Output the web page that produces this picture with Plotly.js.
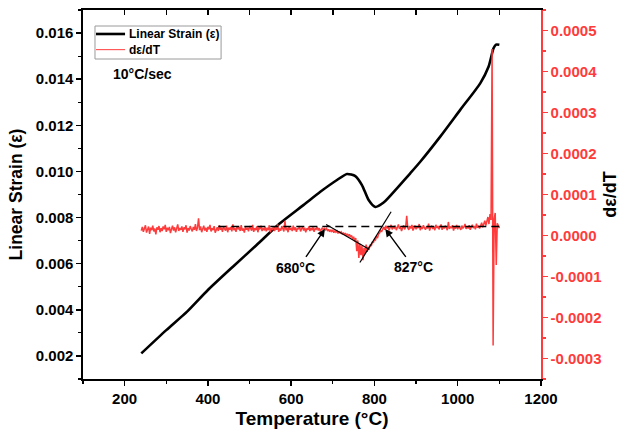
<!DOCTYPE html>
<html><head><meta charset="utf-8">
<script src="https://cdn.plot.ly/plotly-3.0.1.min.js"></script>
<style>html,body{margin:0;padding:0;background:#fff}#chart{width:620px;height:431px}</style>
</head><body><div id="chart"></div>
<script>
// Linear strain curve
const tempStrain = [240, 300, 350, 400, 460, 517, 573, 630, 670, 710, 734, 754, 770, 786, 802, 822, 854, 886, 910, 958, 1006, 1054, 1074, 1086, 1092, 1100];
const strain = [0.00211, 0.00312, 0.00392, 0.00486, 0.00587, 0.00681, 0.00775, 0.00855, 0.00912, 0.00963, 0.00989, 0.00980, 0.00941, 0.00876, 0.00846, 0.00865, 0.00927, 0.00992, 0.01042, 0.01151, 0.01267, 0.01382, 0.01454, 0.01534, 0.01550, 0.01549];

// dε/dT sampled every 2.5 °C from 240 °C, in units of 1e-6
const derivStartT = 240;
const derivStepT = 2.5;
const derivMicro = [
 // 240 – 680
 12, 21, 9, 18, 25, 7, 16, 22, 4, 19, 13, 24, 10, 17, 3, 20, 14, 23, 8, 18,
 11, 22, 15, 26, 9, 19, 13, 21, 6, 17, 24, 12, 20, 8, 16, 27, 11, 18, 14, 22,
 9, 20, 15, 25, 7, 18, 12, 23, 16, 10, 21, 14, 28, 11, 19, 42, 13, 22, 8, 17,
 24, 12, 19, 9, 21, 15, 26, 10, 18, 13, 23, 7, 17, 20, 11, 25, 14, 19, 9, 22,
 16, 12, 24, 8, 19, 14, 21, 10, 27, 13, 18, 9, 22, 15, 20, 11, 25, 12, 17, 7,
 21, 14, 19, 10, 23, 16, 12, 26, 9, 18, 13, 22, 8, 20, 15, 24, 11, 17, 14, 21,
 10, 19, 13, 25, 8, 18, 15, 22, 11, 20, 14, 27, 9, 17, 12, 23, 16, 10, 36, 13,
 19, 8, 22, 14, 17, 11, 24, 13, 20, 9, 18, 15, 23, 10, 16, 21, 12, 19, 8, 17,
 14, 22, 11, 18, 13, 20, 9, 17, 15, 21, 12, 18, 10, 16, 19, 13, 17,
 // 682.5 – 820 (transformation dip)
 14, 17, 11, 15, 9, 14, 10, 13, 7, 12, 8, 11, 5, 10, 6, 9, 3, 7, 2, 6,
 0, 4, -2, 3, -4, 0, -8, -3, -15, -6, -38, -12, -55, -20, -48, -25, -60, -30, -45, -22,
 -40, -28, -32, -22, -26, -15, -18, -9, -11, -3, -5, 4, 6, 12, 10, 17,
 // 822.5 – 1100
 21, 14, 24, 17, 22, 12, 19, 26, 15, 21, 18, 24, 13, 20, 27, 16, 22, 11, 19, 25,
 15, 21, 48, 18, 14, 23, 17, 26, 12, 20, 24, 15, 22, 18, 28, 13, 21, 16, 25, 19,
 14, 22, 17, 29, 12, 20, 24, 16, 21, 13, 26, 18, 23, 15, 20, 27, 14, 22, 17, 24,
 19, 13, 33, 16, 22, 18, 25, 12, 21, 17, 26, 15, 23, 19, 14, 24, 18, 21, 28, 16,
 22, 17, 25, 14, 20, 26, 18, 23, 15, 29, 19, 24, 17, 22, 31, 20, 27, 36, 24, 33,
 45, 28, 52, 38, 455, -268, 40, 55, -72, 30, 25, 18
];
const deriv = derivMicro.map(v => v * 1e-6);

// Construction lines (on the dε/dT axis)
const baseT = [425, 1102];
const baseD = [0.000022, 0.000022];
const tan1T = [684, 788];
const tan1D = [0.000027, -0.000034];
const tan2T = [765, 840];
const tan2D = [-0.000066, 0.000058];

// Onset annotations
const onsetLabels = ['680°C', '827°C'];
const onsetHeadT = [681, 826];
const onsetHeadD = [0.000016, 0.000016];
const onsetTailT = [633, 878];
const onsetTailD = [-0.000056, -0.000056];
const onsetTextT = [610, 894];
const onsetTextD = [-0.000079, -0.000077];

// Legend entries
const legendNames = ['Linear Strain (ε)', 'dε/dT'];
const legendColors = ['#000', '#ff3b3b'];
const legendWidths = [2.6, 1];

const rightTicks = [-0.0003, -0.0002, -0.0001, 0, 0.0001, 0.0002, 0.0003, 0.0004, 0.0005];
const rightTickText = ['-0.0003', '-0.0002', '-0.0001', '0.0000', '0.0001', '0.0002', '0.0003', '0.0004', '0.0005'];

const RED = '#ff3b3b';
const FONT = 'Liberation Sans, Arial, sans-serif';

const traces = [
  {x: tempStrain, y: strain, type: 'scatter', mode: 'lines', name: legendNames[0],
   line: {color: '#000', width: 2.6, shape: 'spline', smoothing: 0.6}, xaxis: 'x', yaxis: 'y', hoverinfo: 'skip'},
  {x0: derivStartT, dx: derivStepT, y: deriv, type: 'scatter', mode: 'lines', name: legendNames[1],
   line: {color: RED, width: 1.5}, xaxis: 'x', yaxis: 'y2', hoverinfo: 'skip'},
  {x: baseT, y: baseD, type: 'scatter', mode: 'lines', showlegend: false,
   line: {color: '#000', width: 1.3, dash: '8px,5px'}, yaxis: 'y2', hoverinfo: 'skip'},
  {x: tan1T, y: tan1D, type: 'scatter', mode: 'lines', showlegend: false,
   line: {color: '#000', width: 1.2}, yaxis: 'y2', hoverinfo: 'skip'},
  {x: tan2T, y: tan2D, type: 'scatter', mode: 'lines', showlegend: false,
   line: {color: '#000', width: 1.2}, yaxis: 'y2', hoverinfo: 'skip'},
  {x: [100, 1200], y: [0.001, 0.001], type: 'scatter', mode: 'lines', showlegend: false,
   line: {color: 'rgba(0,0,0,0)'}, xaxis: 'x2', yaxis: 'y', hoverinfo: 'skip'}
];

const annotations = [
  {x: 243, y: 0.01423, xref: 'x', yref: 'y', text: '<b>10°C/sec</b>', showarrow: false,
   font: {family: FONT, size: 14, color: '#000'}}
];
for (let i = 0; i < onsetLabels.length; i++) {
  annotations.push({x: onsetHeadT[i], y: onsetHeadD[i], xref: 'x', yref: 'y2',
    ax: onsetTailT[i], ay: onsetTailD[i], axref: 'x', ayref: 'y2', text: '',
    showarrow: true, arrowhead: 2, arrowsize: 1.1, arrowwidth: 1.4, arrowcolor: '#000'});
  annotations.push({x: onsetTextT[i], y: onsetTextD[i], xref: 'x', yref: 'y2',
    text: '<b>' + onsetLabels[i] + '</b>', showarrow: false,
    font: {family: FONT, size: 14, color: '#000'}});
}

// Compact legend box (paper coordinates)
const shapes = [
  {type: 'rect', xref: 'paper', yref: 'paper', x0: 0.0262, x1: 0.3015, y0: 0.8672, y1: 0.9566,
   line: {color: '#9a9a9a', width: 1}, fillcolor: '#fff', layer: 'above'}
];
const legendRowY = [0.935, 0.8925];
for (let i = 0; i < legendNames.length; i++) {
  shapes.push({type: 'line', xref: 'paper', yref: 'paper', x0: 0.0284, x1: 0.0918,
    y0: legendRowY[i], y1: legendRowY[i], line: {color: legendColors[i], width: legendWidths[i]}, layer: 'above'});
  annotations.push({x: 0.0965, y: legendRowY[i], xref: 'paper', yref: 'paper', xanchor: 'left', yanchor: 'middle',
    text: '<b>' + legendNames[i] + '</b>', showarrow: false, font: {family: FONT, size: 12, color: '#000'}});
}

const layout = {
  width: 620, height: 431,
  margin: {l: 83, r: 79, t: 10, b: 52},
  paper_bgcolor: '#fff', plot_bgcolor: '#fff',
  font: {family: FONT, color: '#000'},
  showlegend: false,
  xaxis: {range: [100, 1200], showgrid: false, zeroline: false, showline: true, linecolor: '#000', linewidth: 1.6,
    ticks: 'outside', ticklen: 5, tickwidth: 1.4, tickcolor: '#000', dtick: 200, tick0: 0,
    minor: {dtick: 100, tick0: 0, ticks: 'outside', ticklen: 3, tickwidth: 1.2, tickcolor: '#000'},
    tickfont: {family: FONT, size: 15, color: '#000', weight: 'bold'},
    title: {text: '<b>Temperature (°C)</b>', font: {family: FONT, size: 19, color: '#000'}, standoff: 6}},
  xaxis2: {range: [100, 1200], overlaying: 'x', side: 'top', showgrid: false, zeroline: false,
    showline: true, linecolor: '#000', linewidth: 1.6, ticks: 'inside', ticklen: 5, tickwidth: 1.4,
    tickcolor: '#000', dtick: 100, tick0: 0, showticklabels: false},
  yaxis: {range: [0.001, 0.017], showgrid: false, zeroline: false, showline: true, linecolor: '#000', linewidth: 1.6,
    ticks: 'outside', ticklen: 5, tickwidth: 1.4, tickcolor: '#000', dtick: 0.002, tick0: 0, tickformat: '.3f',
    minor: {dtick: 0.001, tick0: 0, ticks: 'outside', ticklen: 3, tickwidth: 1.2, tickcolor: '#000'},
    tickfont: {family: FONT, size: 15, color: '#000', weight: 'bold'},
    title: {text: '<b>Linear Strain (ε)</b>', font: {family: FONT, size: 17.5, color: '#000'}, standoff: 9}},
  yaxis2: {range: [-0.00035, 0.00055], overlaying: 'y', side: 'right', showgrid: false, zeroline: false,
    showline: true, linecolor: RED, linewidth: 1.6,
    ticks: 'outside', ticklen: 5, tickwidth: 1.4, tickcolor: RED,
    tickmode: 'array', tickvals: rightTicks, ticktext: rightTickText,
    minor: {dtick: 0.00005, tick0: 0, ticks: 'outside', ticklen: 3, tickwidth: 1.2, tickcolor: RED},
    tickfont: {family: FONT, size: 15, color: RED, weight: 'bold'},
    title: {text: '<b>dε/dT</b>', font: {family: FONT, size: 18, color: '#000'}, standoff: 4}},
  shapes: shapes,
  annotations: annotations
};

Plotly.newPlot('chart', traces, layout, {staticPlot: true, displayModeBar: false});
</script>
</body></html>
